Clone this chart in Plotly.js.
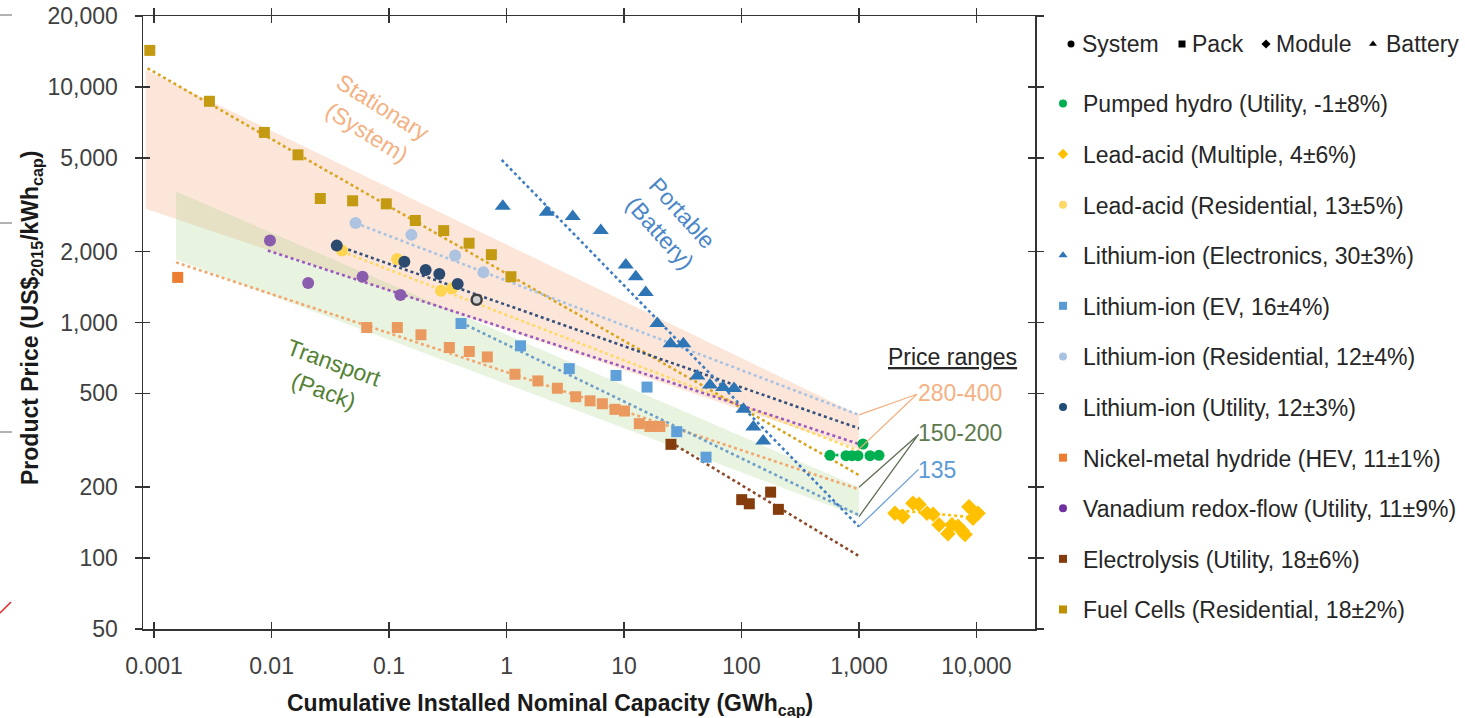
<!DOCTYPE html>
<html>
<head>
<meta charset="utf-8">
<script src="https://cdn.plot.ly/plotly-3.0.1.min.js"></script>
<style>html,body{margin:0;padding:0;background:#fff;overflow:hidden;}#chart{width:1465px;height:718px;}</style>
</head>
<body>
<div id="chart"></div>
<script>
// ---------------- DATA ----------------
const xTickVals = [0.001, 0.01, 0.1, 1, 10, 100, 1000, 10000];
const xTickText = ['0.001', '0.01', '0.1', '1', '10', '100', '1,000', '10,000'];
const yTickVals = [50, 100, 200, 500, 1000, 2000, 5000, 10000, 20000];
const yTickText = ['50', '100', '200', '500', '1,000', '2,000', '5,000', '10,000', '20,000'];

// Shaded ranges (x endpoints, upper and lower price bounds)
const stationaryX = [0.00085, 1000];
const stationaryHi = [11800, 405];
const stationaryLo = [3040, 290];
const transportX = [0.00154, 1000];
const transportHi = [3600, 200];
const transportLo = [1850, 150];

// Pumped hydro (Utility)
const phX = [566, 775, 871, 980, 1081, 1241, 1480];
const phY = [273, 272, 272, 272, 305, 272, 273];
const phFitX = [560, 1480];
const phFitY = [274, 272];

// Lead-acid (Multiple)
const laMultX = [2024, 2367, 2881, 3241, 3793, 4266, 4798, 5718, 6186, 6960, 7522, 7982, 8630, 9335, 10300];
const laMultY = [155, 150, 171, 169, 155, 153.5, 138.5, 127, 138.5, 136.5, 131, 126, 165, 147.5, 155];
const laMultFitX = [2000, 10700];
const laMultFitY = [160, 148];

// Lead-acid (Residential)
const laResX = [0.0398, 0.117, 0.277, 0.344];
const laResY = [2019, 1858, 1364, 1398];
const laResFitX = [0.0398, 1000];
const laResFitY = [2000, 285];

// Lithium-ion (Electronics)
const liElX = [0.929, 2.20, 3.66, 6.34, 10.35, 12.6, 15.3, 19.2, 24.9, 32.0, 42.1, 53.9, 69.6, 86.3, 104, 126, 153];
const liElY = [3117, 2940, 2817, 2455, 1755, 1564, 1342, 990, 812, 812, 593, 543, 530, 525, 428, 360, 314];
const liElFitX = [0.91, 1000];
const liElFitY = [4900, 136];

// Lithium-ion (EV)
const liEvX = [0.410, 1.315, 3.42, 8.55, 15.7, 28.1, 49.9];
const liEvY = [990, 796, 637, 596, 532, 344, 268];
const liEvFitX = [0.41, 1000];
const liEvFitY = [1000, 152];

// Lithium-ion (Residential)
const liResX = [0.0519, 0.155, 0.365, 0.635];
const liResY = [2643, 2355, 1923, 1633];
const liResFitX = [0.052, 1000];
const liResFitY = [2640, 405];

// Lithium-ion (Utility)
const liUtX = [0.0359, 0.135, 0.205, 0.268, 0.384];
const liUtY = [2120, 1812, 1671, 1607, 1456];
const liUtOpenX = [0.557];
const liUtOpenY = [1249];
const liUtFitX = [0.036, 1000];
const liUtFitY = [2120, 355];

// Nickel-metal hydride (HEV)
const nimhX = [0.00159, 0.0646, 0.1177, 0.187, 0.326, 0.482, 0.687, 1.18, 1.85, 2.71, 3.88, 5.14, 6.54, 8.38, 10.1, 13.5, 16.6, 20.2];
const nimhY = [1554, 952, 952, 887, 783, 753, 714, 603, 565, 526, 484, 465, 452, 428, 421, 372, 362, 362];
const nimhFitX = [0.00154, 1000];
const nimhFitY = [1800, 196];

// Vanadium redox-flow (Utility)
const vrfX = [0.0097, 0.0205, 0.0595, 0.125];
const vrfY = [2228, 1471, 1564, 1309];
const vrfFitX = [0.0093, 1000];
const vrfFitY = [2020, 305];

// Electrolysis (Utility)
const elyX = [25.1, 100.4, 116.5, 177, 206];
const elyY = [304, 177, 170, 190.5, 161];
const elyFitX = [25, 1000];
const elyFitY = [310, 102];

// Fuel Cells (Residential)
const fcX = [0.00092, 0.00296, 0.00869, 0.0168, 0.026, 0.049, 0.0948, 0.1675, 0.292, 0.48, 0.743, 1.09];
const fcY = [14290, 8690, 6410, 5150, 3360, 3285, 3190, 2710, 2455, 2170, 1941, 1564];
const fcFitX = [0.00088, 1000];
const fcFitY = [12000, 225];

// Price-range leader lines (label anchor -> range ends at 1,000 GWh)
const leadStatX = [1000, 3112, 1000];
const leadStatY = [405, 496, 290];
const leadTransX = [1000, 3213, 1000];
const leadTransY = [200, 335, 150];
const leadPortX = [3213, 1000];
const leadPortY = [238, 136];

const legendNames = [
  'Pumped hydro (Utility, -1±8%)',
  'Lead-acid (Multiple, 4±6%)',
  'Lead-acid (Residential, 13±5%)',
  'Lithium-ion (Electronics, 30±3%)',
  'Lithium-ion (EV, 16±4%)',
  'Lithium-ion (Residential, 12±4%)',
  'Lithium-ion (Utility, 12±3%)',
  'Nickel-metal hydride (HEV, 11±1%)',
  'Vanadium redox-flow (Utility, 11±9%)',
  'Electrolysis (Utility, 18±6%)',
  'Fuel Cells (Residential, 18±2%)'
];
const legendColors = ['#00B050', '#FFC000', '#FFD966', '#2E75B6', '#5B9BD5', '#A9C3E3', '#1F4E79', '#ED7D31', '#7030A0', '#843C0C', '#BF9000'];
const legendSymbols = ['circle', 'diamond', 'circle', 'triangle-up', 'square', 'circle', 'circle', 'square', 'circle', 'square', 'square'];

const keySymbols = ['circle', 'square', 'diamond', 'triangle-up'];
const keyWords = ['System', 'Pack', 'Module', 'Battery'];

// ---------------- BUILD ----------------
const FONT = 'Liberation Sans, Arial, sans-serif';
const traces = [];

function band(x, hi, lo, color) {
  traces.push({
    x: x.concat(x.slice().reverse()),
    y: hi.concat(lo.slice().reverse()),
    mode: 'lines', fill: 'toself', fillcolor: color,
    line: {width: 0, color: 'rgba(0,0,0,0)'},
    hoverinfo: 'skip', showlegend: false
  });
}
band(stationaryX, stationaryHi, stationaryLo, 'rgba(247,196,165,0.42)');
band(transportX, transportHi, transportLo, 'rgba(169,209,142,0.27)');

function fit(x, y, color) {
  traces.push({x: x, y: y, mode: 'lines', line: {color: color, width: 2.6, dash: 'dot'},
    hoverinfo: 'skip', showlegend: false});
}
fit(fcFitX, fcFitY, '#D9A520');
fit(nimhFitX, nimhFitY, '#F0A86E');
fit(laResFitX, laResFitY, '#FFD966');
fit(liResFitX, liResFitY, '#A9C3E3');
fit(liUtFitX, liUtFitY, '#35507A');
fit(vrfFitX, vrfFitY, '#9B59C0');
fit(liEvFitX, liEvFitY, '#6F9FC9');
fit(liElFitX, liElFitY, '#3E7CC2');
fit(elyFitX, elyFitY, '#8B4A2A');
fit(phFitX, phFitY, '#00B050');
fit(laMultFitX, laMultFitY, '#FFC000');

function pts(x, y, color, symbol, size, extra) {
  traces.push({x: x, y: y, mode: 'markers', showlegend: false, hoverinfo: 'skip',
    marker: Object.assign({color: color, symbol: symbol, size: size, line: {width: 0}}, extra || {})});
}
pts(fcX, fcY, '#C39A12', 'square', 11);
pts(nimhX, nimhY, nimhX.map((v, i) => i === 0 ? '#ED7D31' : '#EA9A5E'), 'square', 11);
pts(vrfX, vrfY, '#8A5CAE', 'circle', 12);
pts(laResX, laResY, '#FFD44F', 'circle', 12);
pts(liResX, liResY, '#ADC3DF', 'circle', 12);
pts(liUtX, liUtY, '#2C4A70', 'circle', 12);
pts(liUtOpenX, liUtOpenY, '#D0D0D0', 'circle', 10, {line: {color: '#404040', width: 2.5}});
pts(liEvX, liEvY, '#5FA0D8', 'square', 11);
pts(liElX, liElY, '#2E75B6', 'triangle-up', 14);
pts(elyX, elyY, '#843C0C', 'square', 11);
pts(phX, phY, '#00B050', 'circle', 11);
pts(laMultX, laMultY, '#FFC000', 'diamond', 12);

function leader(x, y, color) {
  traces.push({x: x, y: y, mode: 'lines', line: {color: color, width: 1.3},
    hoverinfo: 'skip', showlegend: false});
}
leader(leadStatX, leadStatY, '#F4B183');
leader(leadTransX, leadTransY, '#5E6E55');
leader(leadPortX, leadPortY, '#6A9FD6');

// legend entries
legendNames.forEach((n, i) => {
  traces.push({x: [null], y: [null], mode: 'markers', name: n, legendgroup: 'g' + i,
    marker: {color: legendColors[i], symbol: legendSymbols[i], size: 8}});
});

// marker-type key row on a hidden helper axis (its range is the pixel span of the key row)
const keySymPx = [1071, 1182, 1266, 1373];
traces.push({x: keySymPx, y: [0, 0, 0, 0], xaxis: 'x3', yaxis: 'y3', mode: 'markers', cliponaxis: false,
  marker: {color: '#000', symbol: keySymbols, size: 7}, showlegend: false, hoverinfo: 'skip'});

// overlay axes for inward ticks (cross ticks)
traces.push({x: [null], y: [null], xaxis: 'x2', yaxis: 'y2', mode: 'markers', showlegend: false, hoverinfo: 'skip'});

const W = 1465, H = 718, L = 143, R = 5, T = 16, B = 89;
const PLOT_RIGHT = 1035;
const PW = W - L - R, PH = H - T - B;
const px = v => (v - L) / PW;
const py = v => (H - B - v) / PH;
const mainDomX = [0, px(PLOT_RIGHT)];

const xr = [-3.094, 4.498];
const yr = [Math.log10(50), Math.log10(20000)];

const axisCommon = {
  type: 'log', showgrid: false, zeroline: false,
  showline: true, linecolor: '#333', linewidth: 1.5,
  tickcolor: '#333', tickwidth: 1.5, ticklen: 7,
  tickfont: {family: FONT, size: 23, color: '#404040'}
};

const ann = [];
function label(x, y, text, opts) {
  ann.push(Object.assign({xref: 'paper', yref: 'paper', x: px(x), y: py(y), text: text,
    xanchor: 'center', yanchor: 'middle',
    showarrow: false, font: {family: FONT, size: 23, color: '#262626'}}, opts || {}));
}
label(375, 120, 'Stationary<br>(System)', {textangle: 32, font: {family: FONT, size: 23, color: '#F4B183'}});
label(671, 223, 'Portable<br>(Battery)', {textangle: 48, font: {family: FONT, size: 23, color: '#4A86C8'}});
label(329, 377, 'Transport<br>(Pack)', {textangle: 20, font: {family: FONT, size: 23, color: '#548235'}});
label(886, 357, '<u>Price ranges</u>', {xanchor: 'left'});
label(916, 393, '280-400', {xanchor: 'left', font: {family: FONT, size: 23, color: '#F4B183'}});
label(916, 433, '150-200', {xanchor: 'left', font: {family: FONT, size: 23, color: '#5E7A4E'}});
label(916, 470, '135', {xanchor: 'left', font: {family: FONT, size: 23, color: '#5B9BD5'}});
label(550, 704, 'Cumulative Installed Nominal Capacity (GWh<sub>cap</sub>)',
  {font: {family: FONT, size: 23, color: '#1a1a1a', weight: 'bold'}});
label(31, 318, 'Product Price (US$<sub>2015</sub>/kWh<sub>cap</sub>)',
  {textangle: -90, font: {family: FONT, size: 23, color: '#1a1a1a', weight: 'bold'}});
const keyTextPos = [1080, 1190, 1274, 1384];
keyWords.forEach((w, i) => label(keyTextPos[i], 44, w, {xanchor: 'left'}));

const shapes = [
  {type: 'line', xref: 'paper', yref: 'paper', x0: px(0), x1: px(12), y0: py(15), y1: py(15), line: {color: '#999', width: 1.5}},
  {type: 'line', xref: 'paper', yref: 'paper', x0: px(0), x1: px(12), y0: py(223), y1: py(223), line: {color: '#999', width: 1.5}},
  {type: 'line', xref: 'paper', yref: 'paper', x0: px(0), x1: px(12), y0: py(432), y1: py(432), line: {color: '#999', width: 1.5}},
  {type: 'line', xref: 'paper', yref: 'paper', x0: px(0), x1: px(11), y0: py(613), y1: py(602), line: {color: '#E02020', width: 1.5}}
];

const hidden = {visible: false, showgrid: false, zeroline: false, fixedrange: true};

const layout = {
  width: W, height: H,
  margin: {l: L, r: R, t: T, b: B, pad: 0, autoexpand: false},
  paper_bgcolor: '#fff', plot_bgcolor: 'rgba(0,0,0,0)',
  font: {family: FONT, size: 23, color: '#262626'},
  showlegend: true,
  legend: {x: px(1043), y: py(82), xanchor: 'left', yanchor: 'top',
    font: {family: FONT, size: 23, color: '#262626'}, tracegroupgap: 17.7,
    itemwidth: 30, bgcolor: 'rgba(0,0,0,0)'},
  xaxis: Object.assign({}, axisCommon, {domain: mainDomX, range: xr, tickvals: xTickVals, ticktext: xTickText,
    ticks: 'outside', mirror: 'ticks', ticklabelstandoff: 9, anchor: 'y'}),
  yaxis: Object.assign({}, axisCommon, {range: yr, tickvals: yTickVals, ticktext: yTickText,
    ticks: 'outside', mirror: 'ticks', ticklabelstandoff: 12, anchor: 'x'}),
  xaxis2: Object.assign({}, axisCommon, {range: xr, tickvals: xTickVals, overlaying: 'x', anchor: 'y2',
    ticks: 'inside', mirror: 'ticks', showticklabels: false}),
  yaxis2: Object.assign({}, axisCommon, {range: yr, tickvals: yTickVals, overlaying: 'y', anchor: 'x2',
    ticks: 'inside', mirror: 'ticks', showticklabels: false}),
  xaxis3: Object.assign({}, hidden, {domain: [px(keySymPx[0]), px(keySymPx[3])],
    range: [keySymPx[0], keySymPx[3]], anchor: 'y3'}),
  yaxis3: Object.assign({}, hidden, {domain: [py(54), py(34)], range: [-1, 1], anchor: 'x3'}),
  annotations: ann,
  shapes: shapes
};

Plotly.newPlot('chart', traces, layout, {displayModeBar: false, staticPlot: true});
</script>
</body>
</html>
